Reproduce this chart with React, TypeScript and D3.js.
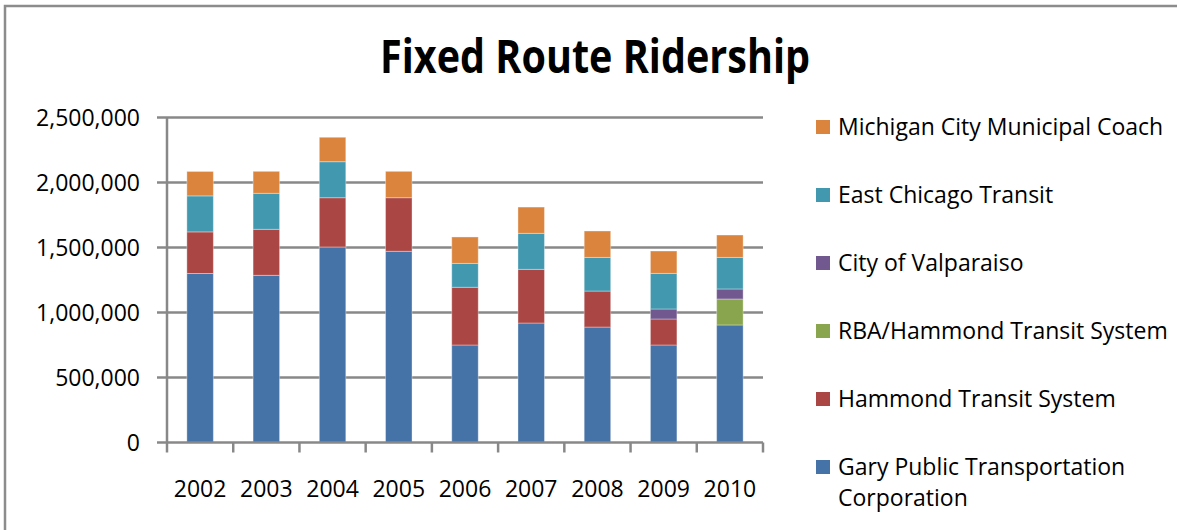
import React from "react";
import * as d3 from "d3";

const years = ["2002", "2003", "2004", "2005", "2006", "2007", "2008", "2009", "2010"];
const gary = [1300000, 1286000, 1504000, 1471000, 750000, 919000, 888000, 750000, 904000];
const hammond = [320000, 354000, 379000, 412000, 444000, 413000, 277000, 200000, 0];
const rba = [0, 0, 0, 0, 0, 0, 0, 0, 200000];
const valpo = [0, 0, 0, 0, 0, 0, 0, 77000, 77000];
const eastChicago = [277000, 277000, 277000, 0, 184000, 277000, 259000, 274000, 243000];
const michigan = [188000, 169000, 188000, 203000, 203000, 202000, 203000, 172000, 172000];
const yTicks = [0, 500000, 1000000, 1500000, 2000000, 2500000];

const seriesNames = [
  "Gary Public Transportation Corporation",
  "Hammond Transit System",
  "RBA/Hammond Transit System",
  "City of Valparaiso",
  "East Chicago Transit",
  "Michigan City Municipal Coach",
];
const seriesData = [gary, hammond, rba, valpo, eastChicago, michigan];
const colors = ["#4572A7", "#AA4643", "#89A54E", "#71588F", "#4198AF", "#DB843D"];

const FONT = "'Open Sans', 'Noto Sans', sans-serif";

export default function App() {
  const left = 167, right = 763, top = 117.5, bottom = 442.5;
  const x = d3.scaleBand<string>().domain(years).range([left, right]).paddingInner(0.6).paddingOuter(0.3);
  const y = d3.scaleLinear().domain([0, 2500000]).range([bottom, top]);
  const rows = years.map((yr, i) => {
    const r: any = { year: yr };
    seriesNames.forEach((n, k) => (r[n] = seriesData[k][i]));
    return r;
  });
  const stacked = d3.stack().keys(seriesNames)(rows);
  const fmt = d3.format(",");
  const step = x.step();
  const grid = "#888888";
  const fs = 23;

  const legendRows = [
    { k: 5, y: 127, lines: ["Michigan City Municipal Coach"] },
    { k: 4, y: 195, lines: ["East Chicago Transit"] },
    { k: 3, y: 263, lines: ["City of Valparaiso"] },
    { k: 2, y: 331, lines: ["RBA/Hammond Transit System"] },
    { k: 1, y: 399, lines: ["Hammond Transit System"] },
    { k: 0, y: 467, lines: ["Gary Public Transportation", "Corporation"] },
  ];

  return (
    <svg width={1177} height={530} style={{ position: "absolute", left: 0, top: 0, background: "#fff" }} fontFamily={FONT}>
      <rect x={0} y={0} width={1177} height={530} fill="#fff" />
      <path d="M5,540 L5,6 L1180,6" fill="none" stroke="#8c8c8c" strokeWidth={2.5} />
      <text x={595} y={73} textAnchor="middle" fontSize={46} fontWeight="bold" textLength={430} lengthAdjust="spacingAndGlyphs" fill="#000">
        Fixed Route Ridership
      </text>
      {yTicks.map((t) => (
        <g key={t}>
          {t > 0 && <line x1={left} x2={right} y1={y(t)} y2={y(t)} stroke={grid} strokeWidth={2.5} />}
          <line x1={left - 10} x2={left} y1={y(t)} y2={y(t)} stroke={grid} strokeWidth={2.5} />
          <text x={140} y={y(t)} dy="0.36em" textAnchor="end" fontSize={fs} fill="#000">
            {fmt(t)}
          </text>
        </g>
      ))}
      {stacked.map((s, k) =>
        s.map((d, i) =>
          d[1] - d[0] > 0 ? (
            <rect
              key={k + "-" + i}
              x={x(years[i])!}
              y={y(d[1])}
              width={x.bandwidth()}
              height={y(d[0]) - y(d[1])}
              fill={colors[k]}
              stroke="rgba(255,255,255,0.35)"
              strokeWidth={1}
            />
          ) : null
        )
      )}
      <line x1={left} x2={left} y1={top} y2={bottom} stroke={grid} strokeWidth={2.5} />
      <line x1={left} x2={right} y1={bottom} y2={bottom} stroke={grid} strokeWidth={2.5} />
      {d3.range(years.length + 1).map((i) => (
        <line key={i} x1={left + i * step} x2={left + i * step} y1={bottom} y2={bottom + 10} stroke={grid} strokeWidth={2.5} />
      ))}
      {years.map((yr) => (
        <text key={yr} x={x(yr)! + x.bandwidth() / 2} y={497} textAnchor="middle" fontSize={fs} fill="#000">
          {yr}
        </text>
      ))}
      {legendRows.map((r) => (
        <g key={r.k}>
          <rect x={816} y={r.y - 7} width={14} height={14} fill={colors[r.k]} />
          {r.lines.map((ln, j) => (
            <text key={j} x={838} y={r.y + j * 31} dy="0.36em" fontSize={fs} fill="#000">
              {ln}
            </text>
          ))}
        </g>
      ))}
    </svg>
  );
}
